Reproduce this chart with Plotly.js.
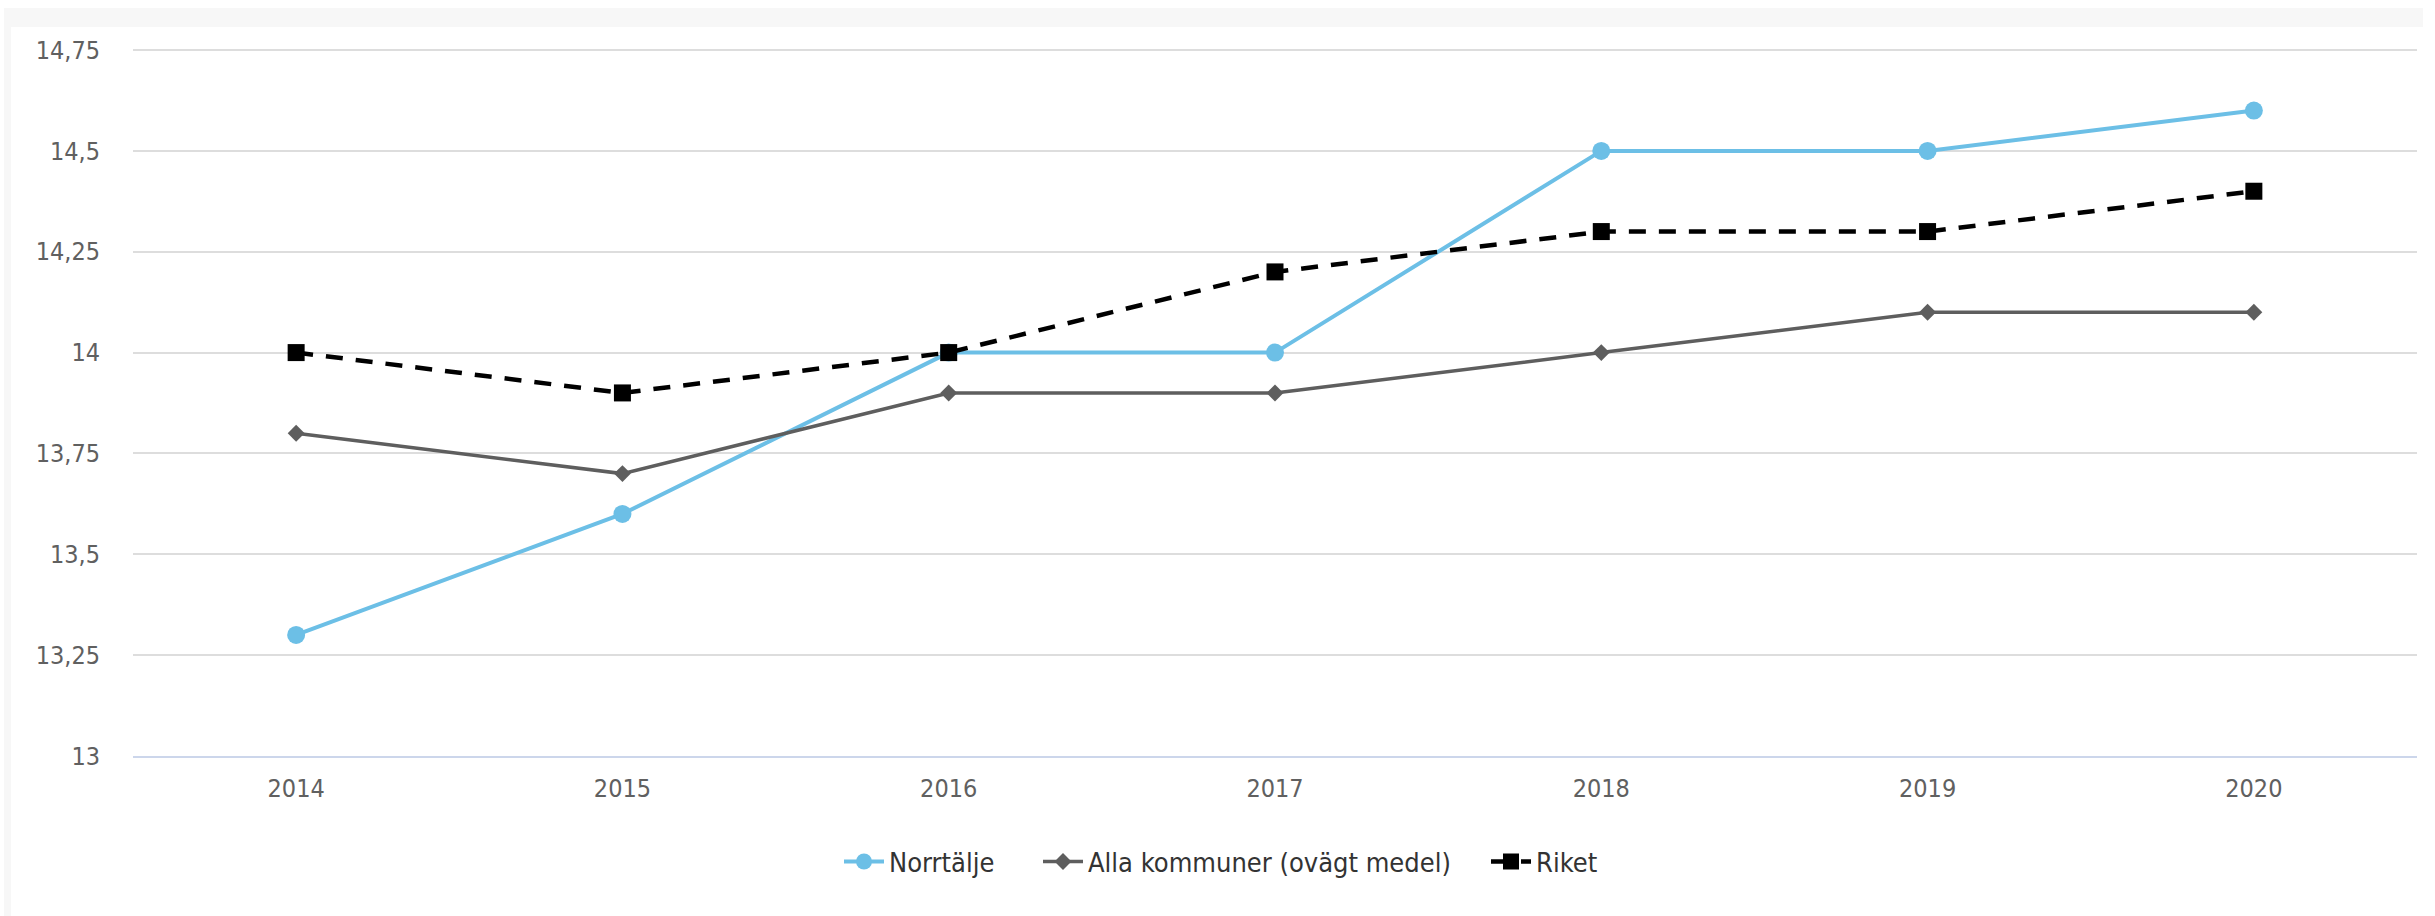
<!DOCTYPE html>
<html>
<head>
<meta charset="utf-8">
<script src="https://cdn.plot.ly/plotly-3.0.1.min.js"></script>
<style>
  html, body { margin: 0; padding: 0; background: #ffffff; }
  #wrap { position: relative; width: 2435px; height: 916px; overflow: hidden; }
  .band { position: absolute; background: #f7f7f7; }
  #chart { position: absolute; left: 0; top: 0; width: 2435px; height: 916px; }
</style>
</head>
<body>
<div id="wrap">
  <div class="band" style="left:4px; top:8px; width:2419px; height:19px;"></div>
  <div class="band" style="left:4px; top:8px; width:7px; height:908px;"></div>
  <div id="chart"></div>
</div>
<script>
const years = ["2014", "2015", "2016", "2017", "2018", "2019", "2020"];
const norrtalje = [13.3, 13.6, 14.0, 14.0, 14.5, 14.5, 14.6];
const allaKommuner = [13.8, 13.7, 13.9, 13.9, 14.0, 14.1, 14.1];
const riket = [14.0, 13.9, 14.0, 14.2, 14.3, 14.3, 14.4];
const seriesNames = ["Norrtälje", "Alla kommuner (ovägt medel)", "Riket"];
const yTickVals = [13, 13.25, 13.5, 13.75, 14, 14.25, 14.5, 14.75];
const yTickText = ["13", "13,25", "13,5", "13,75", "14", "14,25", "14,5", "14,75"];

const FONT = '"DejaVu Sans Condensed", "DejaVu Sans", sans-serif';

const traces = [
  {
    x: years, y: norrtalje, name: seriesNames[0], type: 'scatter', mode: 'lines+markers',
    legend: 'legend',
    line: { color: '#6cbfe6', width: 4 },
    marker: { symbol: 'circle', size: 18, color: '#6cbfe6' }
  },
  {
    x: years, y: allaKommuner, name: seriesNames[1], type: 'scatter', mode: 'lines+markers',
    legend: 'legend2',
    line: { color: '#5e5e5e', width: 3.5 },
    marker: { symbol: 'diamond', size: 13, color: '#5e5e5e' }
  },
  {
    x: years, y: riket, name: seriesNames[2], type: 'scatter', mode: 'lines+markers',
    legend: 'legend3',
    line: { color: '#000000', width: 4.5, dash: '17px,13px' },
    marker: { symbol: 'square', size: 17, color: '#000000' }
  }
];

function legendAt(xpx) {
  return {
    orientation: 'h',
    xref: 'container', yref: 'container',
    x: xpx / 2435, xanchor: 'left',
    y: 0.059, yanchor: 'middle',
    font: { family: FONT, size: 27, color: '#333333' },
    itemwidth: 40,
    itemclick: false, itemdoubleclick: false,
    bgcolor: 'rgba(0,0,0,0)'
  };
}

const layout = {
  width: 2435, height: 916,
  margin: { l: 133, r: 18, t: 46, b: 160, pad: 0 },
  paper_bgcolor: 'rgba(0,0,0,0)',
  plot_bgcolor: 'rgba(0,0,0,0)',
  font: { family: FONT, color: '#606060', size: 25 },
  showlegend: true,
  hovermode: false,
  xaxis: {
    type: 'category',
    range: [-0.5, 6.5],
    showgrid: false,
    zeroline: false,
    showline: true,
    linecolor: '#ccd6eb',
    linewidth: 2,
    ticks: '',
    tickfont: { family: FONT, size: 25, color: '#606060' },
    ticklabelstandoff: 9,
    fixedrange: true
  },
  yaxis: {
    range: [13, 14.76],
    tickvals: yTickVals,
    ticktext: yTickText,
    showgrid: true,
    gridcolor: '#dddddd',
    gridwidth: 2,
    zeroline: false,
    showline: false,
    ticks: '',
    tickfont: { family: FONT, size: 25, color: '#606060' },
    ticklabelstandoff: 32,
    fixedrange: true
  },
  legend: legendAt(839),
  legend2: legendAt(1038),
  legend3: legendAt(1486)
};

Plotly.newPlot('chart', traces, layout, { staticPlot: true, displayModeBar: false });
</script>
</body>
</html>
